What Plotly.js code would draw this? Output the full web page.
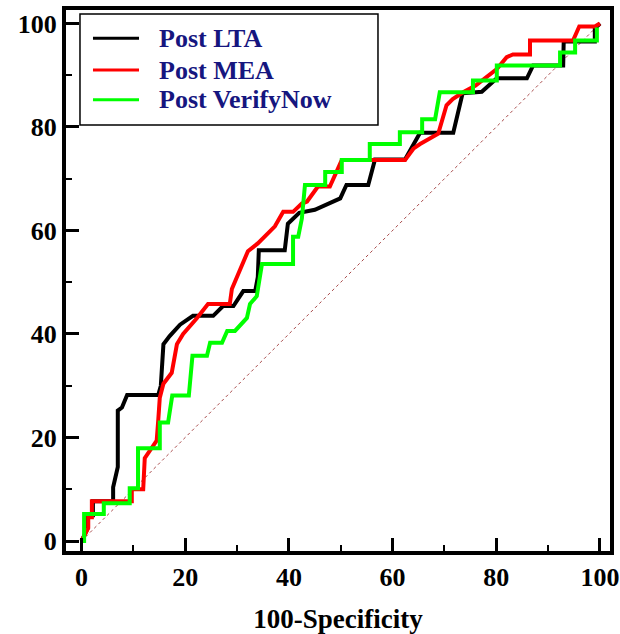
<!DOCTYPE html>
<html>
<head>
<meta charset="utf-8">
<script src="https://cdn.plot.ly/plotly-3.0.1.min.js"></script>
<style>html,body{margin:0;padding:0;background:#fff;}#chart{width:620px;height:634px;}</style>
</head>
<body>
<div id="chart"></div>
<script>
// Series names
const seriesNames = ["Post LTA", "Post MEA", "Post VerifyNow"];
const seriesColors = ["#000000", "#ff0000", "#00ff00"];

// Post LTA ROC curve (100-Specificity, Sensitivity)
const ltaX = [0, 1.2, 1.2, 2.2, 2.2, 6.1, 6.1, 7.0, 7.0, 7.8, 8.8, 14.8, 15.3, 15.8, 17.0, 19.0, 21.5, 25.4, 27.3, 29.3, 31.2, 33.5, 34.0, 34.2, 39.2, 39.8, 42.0, 45.0, 49.9, 51.1, 55.3, 56.6, 62.4, 64.0, 65.3, 71.7, 73.5, 77.2, 80.1, 85.9, 87.1, 92.9, 93.0, 99.0, 99.0, 100];
const ltaY = [0, 2.5, 5.0, 5.0, 7.7, 7.7, 10.4, 14.3, 25.2, 25.8, 28.2, 28.2, 30.0, 38.0, 39.6, 41.8, 43.5, 43.5, 45.4, 45.4, 48.3, 48.3, 51.0, 56.2, 56.2, 61.3, 63.4, 64.0, 66.2, 68.8, 68.8, 73.7, 73.7, 76.5, 78.9, 78.9, 86.5, 86.8, 89.4, 89.4, 91.9, 91.9, 96.5, 96.5, 99.0, 100];

// Post MEA ROC curve
const meaX = [0, 1.3, 1.3, 2.0, 2.0, 9.7, 9.7, 11.9, 12.2, 13.2, 14.5, 14.8, 15.1, 15.8, 17.4, 18.4, 19.6, 22.2, 24.4, 28.6, 29.0, 32.1, 34.0, 37.3, 38.9, 40.8, 42.5, 43.5, 45.6, 47.9, 50.2, 62.4, 64.0, 65.3, 68.8, 70.4, 71.6, 73.6, 76.0, 80.1, 82.0, 83.2, 86.5, 86.5, 94.8, 96.0, 99.0, 100];
const meaY = [0, 2.5, 4.6, 4.6, 7.7, 7.7, 10.0, 10.0, 16.0, 17.5, 19.4, 23.3, 27.7, 30.4, 32.5, 38.0, 40.0, 43.0, 45.8, 45.8, 48.7, 56.0, 57.5, 60.8, 63.6, 63.6, 65.2, 65.6, 68.5, 68.5, 73.6, 73.6, 75.8, 76.7, 78.7, 84.2, 85.4, 86.7, 88.0, 91.2, 93.5, 94.0, 94.0, 96.7, 96.7, 99.4, 99.4, 100];

// Post VerifyNow ROC curve
const vnX = [0, 0.5, 0.5, 4.3, 4.3, 9.3, 9.3, 10.9, 10.9, 15.1, 15.1, 16.7, 17.5, 20.7, 21.4, 24.2, 24.8, 27.1, 28.1, 29.6, 31.9, 32.5, 33.8, 34.4, 34.8, 40.8, 40.8, 41.8, 42.5, 43.1, 47.0, 47.0, 50.2, 50.2, 55.6, 55.6, 61.4, 61.4, 65.7, 65.7, 68.2, 69.1, 75.5, 75.5, 80.1, 80.1, 92.3, 92.3, 95.2, 95.2, 99.4, 99.4];
const vnY = [0, 0, 5.2, 5.2, 7.3, 7.3, 10.2, 10.2, 17.9, 17.9, 22.9, 22.9, 28.1, 28.1, 35.8, 35.8, 38.3, 38.3, 40.6, 40.6, 43.1, 45.8, 47.3, 50.8, 53.5, 53.5, 58.8, 58.8, 62.3, 68.8, 68.8, 71.3, 71.3, 73.6, 73.6, 76.7, 76.7, 79.0, 79.0, 81.5, 81.5, 86.7, 86.7, 89.0, 89.0, 91.9, 91.9, 94.4, 94.4, 96.7, 96.7, 99.2];

// Reference diagonal
const diagX = [0, 100];
const diagY = [0, 100];

// Axis ticks
const tickValues = [0, 20, 40, 60, 80, 100];
const tickLabels = ["0", "20", "40", "60", "80", "100"];
const xTitle = "100-Specificity";

const FONT = "Liberation Serif, Times New Roman, serif";

const curves = [[ltaX, ltaY], [meaX, meaY], [vnX, vnY]];
const traces = [{
  x: diagX, y: diagY, type: "scatter", mode: "lines",
  line: {color: "#a84a4a", width: 1, dash: "dot"}, showlegend: false, hoverinfo: "skip"
}];
curves.forEach((c, i) => {
  traces.push({
    x: c[0], y: c[1], type: "scatter", mode: "lines", name: seriesNames[i],
    line: {color: seriesColors[i], width: 4}, showlegend: false
  });
});

// Manual legend (paper coordinates)
const legRows = [0.948, 0.889, 0.834];
const shapes = [{
  type: "rect", xref: "paper", yref: "paper",
  x0: 0.0257, x1: 0.5735, y0: 0.7874, y1: 0.9926,
  line: {color: "#000", width: 1.5}, fillcolor: "#fff", layer: "above"
}];
const annotations = [];
seriesNames.forEach((n, i) => {
  shapes.push({
    type: "line", xref: "paper", yref: "paper",
    x0: 0.0496, x1: 0.1342, y0: legRows[i], y1: legRows[i],
    line: {color: seriesColors[i], width: 3}, layer: "above"
  });
  annotations.push({
    xref: "paper", yref: "paper", x: 0.1673, y: legRows[i],
    xanchor: "left", yanchor: "middle", showarrow: false, text: n,
    font: {family: FONT, size: 26, color: "#16167f", weight: "bold"}
  });
});

const axisCommon = {
  showline: true, linewidth: 4, linecolor: "#000", mirror: true,
  ticks: "inside", ticklen: 13, tickwidth: 3, tickcolor: "#000",
  showgrid: false, zeroline: false,
  tickvals: tickValues, ticktext: tickLabels,
  tickfont: {family: FONT, size: 26, color: "#000", weight: "bold"},
  minor: {dtick: 10, tick0: 0, ticks: "inside", ticklen: 6, tickwidth: 2, tickcolor: "#000", showgrid: false}
};

const layout = {
  width: 620, height: 634,
  margin: {l: 66, r: 10, t: 10, b: 83},
  paper_bgcolor: "#fff", plot_bgcolor: "#fff",
  showlegend: false,
  xaxis: Object.assign({}, axisCommon, {
    range: [-2.99, 101.93],
    title: {text: xTitle, font: {family: FONT, size: 27, color: "#000", weight: "bold"}, standoff: 19}
  }),
  yaxis: Object.assign({}, axisCommon, {
    range: [-1.93, 102.6]
  }),
  shapes: shapes,
  annotations: annotations
};

Plotly.newPlot("chart", traces, layout, {displayModeBar: false, staticPlot: true});
</script>
</body>
</html>
